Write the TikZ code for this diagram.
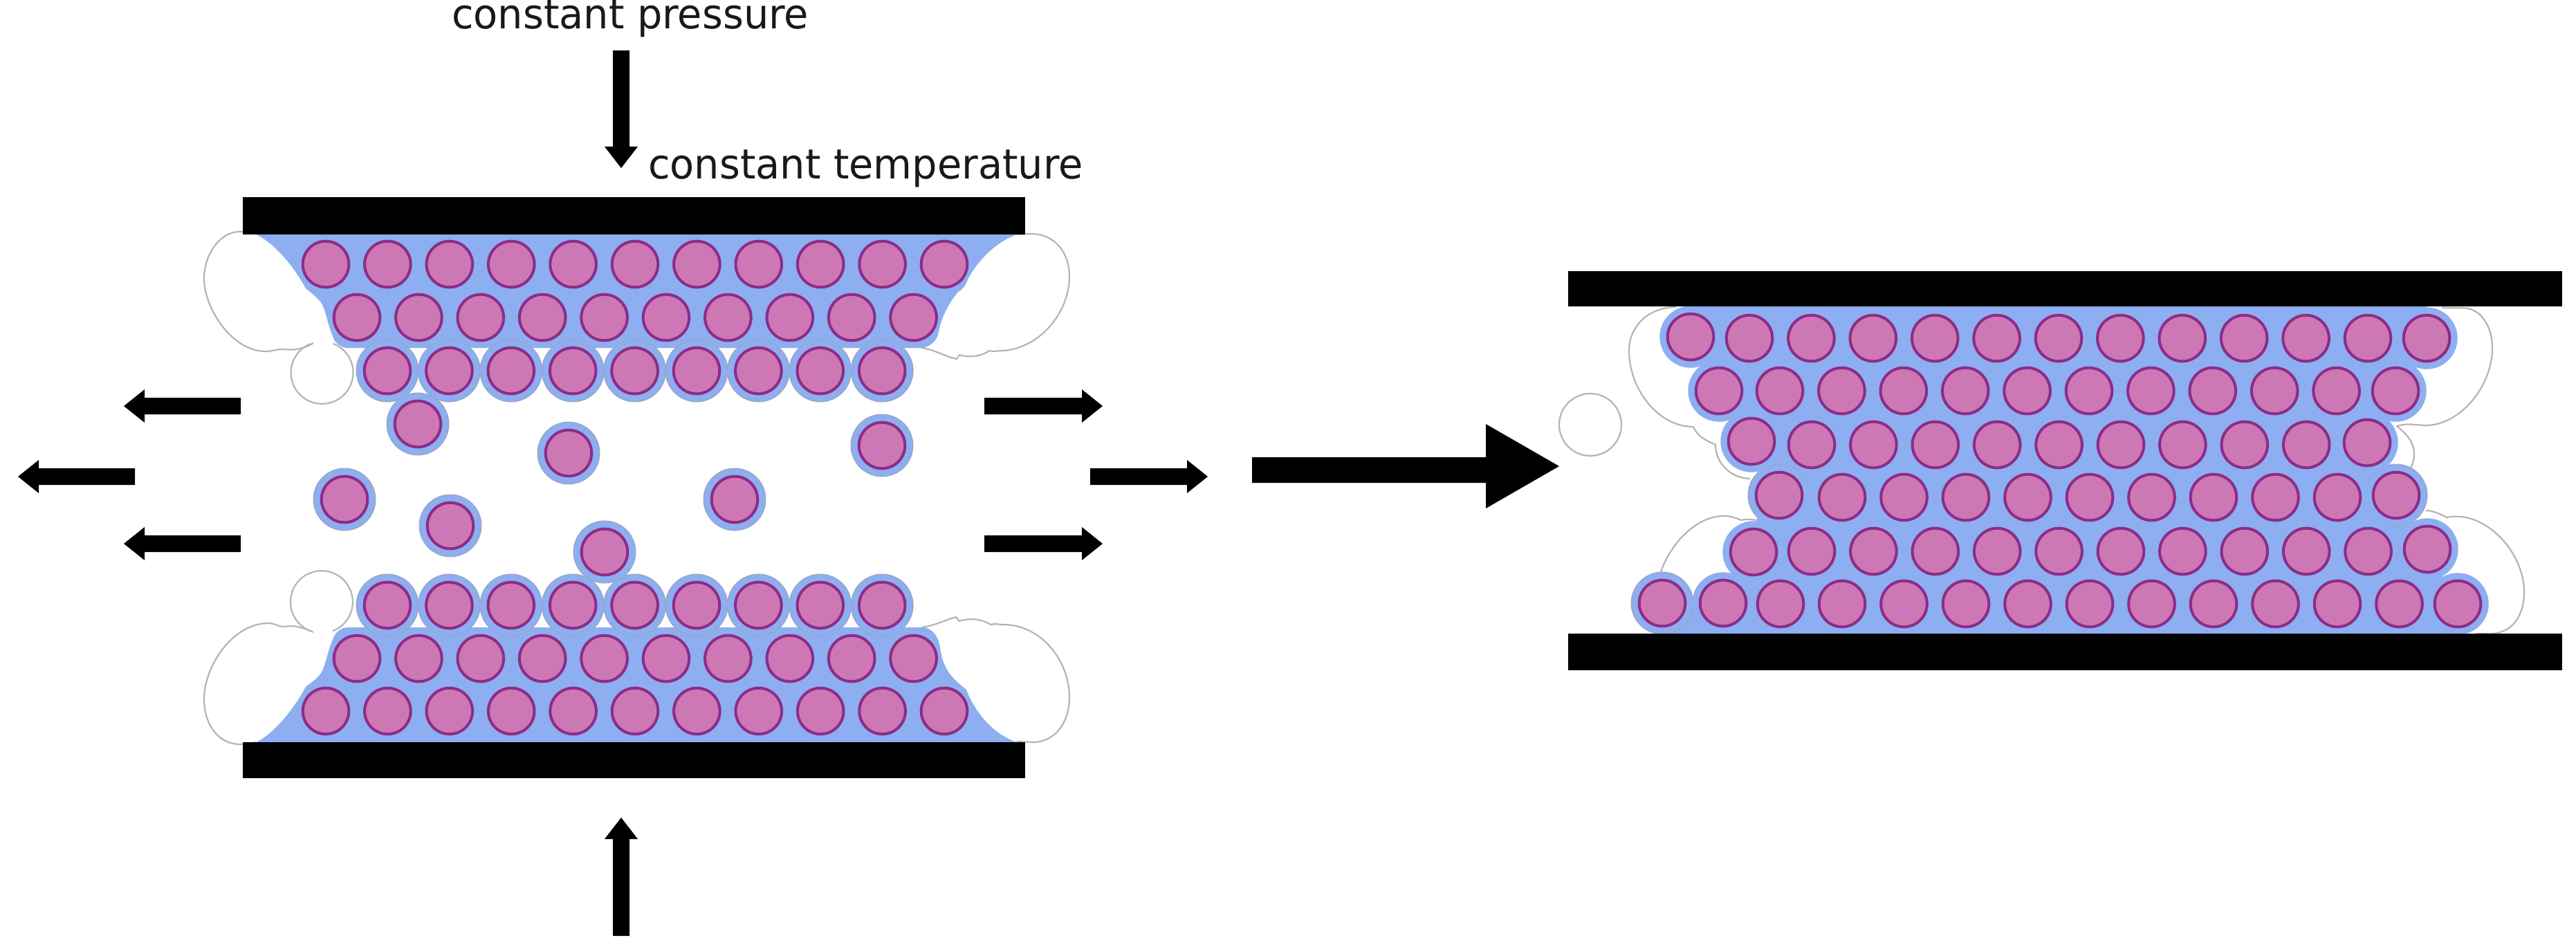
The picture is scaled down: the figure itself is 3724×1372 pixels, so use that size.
\documentclass[tikz,border=0pt]{standalone}
\usepackage{fontspec}
\setmainfont{DejaVu Sans}
\definecolor{pinkf}{HTML}{CD78B4}
\definecolor{pinkd}{HTML}{8C2C88}
\definecolor{bluef}{HTML}{8DAEF0}
\definecolor{edgeg}{HTML}{B4B4B4}
\definecolor{halog}{HTML}{98A8C8}
\tikzset{
  wall/.style={fill=black,draw=none},
  film/.style={draw=edgeg,line width=2.2pt,line join=round},
  blob/.style={fill=bluef,draw=none},
  halo/.style={fill=bluef,draw=none},
  halored/.style={fill=bluef,draw=halog,line width=1.6pt},
  core/.style={fill=pinkf,draw=pinkd,line width=4pt},
  bigarrow/.style={fill=black,draw=none},
  lab/.style={font=\fontsize{59.5}{70}\selectfont,text=black!90,inner sep=0pt,anchor=base west,xscale=.965}
}
\newcommand{\pcore}[2]{\path[core] (#1,#2) circle[radius=33.3];}
\newcommand{\phalo}[2]{\path[halored] (#1,#2) circle[radius=44.7];}
\newcommand{\phalb}[2]{\path[halo] (#1,#2) circle[radius=44.7];}
\newcommand{\arrowR}[3]{\path[bigarrow] (#1,#3-12) -- (#2-30,#3-12) -- (#2-30,#3-24) -- (#2,#3) -- (#2-30,#3+24) -- (#2-30,#3+12) -- (#1,#3+12) -- cycle;}
\newcommand{\arrowL}[3]{\path[bigarrow] (#1,#3-12) -- (#2+30,#3-12) -- (#2+30,#3-24) -- (#2,#3) -- (#2+30,#3+24) -- (#2+30,#3+12) -- (#1,#3+12) -- cycle;}
\begin{document}
\begin{tikzpicture}[x=1pt,y=-1pt]
\useasboundingbox (0,0) rectangle (3724,1372);
\path[fill=white] (0,0) rectangle (3724,1372);

% ---------- left panel: films
\draw[film] (370,338) .. controls (360,335) and (352,335) .. (346,335) .. controls (318,335) and (295,368) .. (295,403) .. controls (295,445) and (335,508) .. (384,508) .. controls (395,508) and (402,504) .. (411,505) .. controls (425,507) and (440,504) .. (453,496);
\draw[film] (449,497) arc[start angle=248.4,end angle=-69,radius=45];
\draw[film] (1332,503) .. controls (1350,505) and (1365,515) .. (1383,519) -- (1387,513) .. controls (1395,516) and (1415,518) .. (1430,507) .. controls (1436,509) and (1442,507) .. (1450,507) .. controls (1505,503) and (1546,450) .. (1546,400) .. controls (1546,365) and (1525,338) .. (1490,338) -- (1470,339);
\draw[film] (370,1073) .. controls (360,1076) and (352,1076) .. (346,1076) .. controls (318,1076) and (295,1050) .. (295,1010) .. controls (295,965) and (335,901) .. (388,901) .. controls (398,901) and (404,907) .. (411,906) .. controls (425,903) and (440,908) .. (453,914);
\draw[film] (451,913) arc[start angle=108,end angle=429,radius=45];
\draw[film] (1332,907) .. controls (1350,905) and (1365,897) .. (1382,892) -- (1387,898) .. controls (1395,895) and (1415,892) .. (1432,903) .. controls (1438,901) and (1444,903) .. (1450,903) .. controls (1505,903) and (1546,955) .. (1546,1008) .. controls (1546,1045) and (1525,1073) .. (1493,1073) -- (1470,1072);

% ---------- left panel: liquid
\path[blob] (370,339) .. controls (395,350) and (425,385) .. (442,417) .. controls (452,425) and (458,430) .. (464,437) .. controls (472,450) and (473,470) .. (484,493) .. controls (490,500) and (495,503) .. (505,503) -- (1335,503) .. controls (1350,498) and (1355,490) .. (1357,480) .. controls (1360,460) and (1372,438) .. (1385,422) .. controls (1392,418) and (1395,415) .. (1400,402) .. controls (1415,375) and (1440,350) .. (1470,339) -- cycle;
\path[blob] (370,1073) .. controls (395,1062) and (425,1025) .. (442,993) .. controls (452,985) and (458,982) .. (464,973) .. controls (472,960) and (473,940) .. (484,918) .. controls (490,910) and (495,907) .. (505,907) -- (1337,907) .. controls (1352,912) and (1356,922) .. (1359,935) .. controls (1362,965) and (1375,980) .. (1397,997) .. controls (1405,1020) and (1430,1060) .. (1470,1073) -- cycle;

% left panel particles
\foreach \i in {0,...,8} {\pgfmathsetmacro\xx{560+89.4*\i}\phalo{\xx}{536}\phalo{\xx}{875}}
\foreach \x/\y in {604/613,822/655,1275/644,498/722,651/760,1062/722,874/798} {\phalo{\x}{\y}}
\foreach \x/\y in {604/613,822/655,1275/644,498/722,651/760,1062/722,874/798} {\pcore{\x}{\y}}
\foreach \i in {0,...,8} {\pgfmathsetmacro\xx{560+89.4*\i}\pcore{\xx}{536}\pcore{\xx}{875}}
\foreach \i in {0,...,9} {\pgfmathsetmacro\xx{516+89.4*\i}\pcore{\xx}{459}\pcore{\xx}{952}}
\foreach \i in {0,...,10} {\pgfmathsetmacro\xx{471+89.4*\i}\pcore{\xx}{382}\pcore{\xx}{1028}}

% left panel walls
\path[wall] (351,285) rectangle (1482,339);
\path[wall] (351,1073) rectangle (1482,1125);

% ---------- right panel: films
\draw[film] (2299,614) circle[radius=45];
\draw[film] (2423,444) .. controls (2385,444) and (2355,470) .. (2355,507) .. controls (2355,560) and (2395,617) .. (2448,617) .. controls (2455,632) and (2465,636) .. (2480,643) .. controls (2480,672) and (2505,692) .. (2530,692);
\draw[film] (2400,830) .. controls (2412,790) and (2450,746) .. (2492,746) .. controls (2505,746) and (2512,750) .. (2517,752) .. controls (2525,750) and (2540,751) .. (2550,755);
\draw[film] (3530,445) -- (3560,445) .. controls (3585,445) and (3603,470) .. (3603,503) .. controls (3603,560) and (3555,615) .. (3507,615) .. controls (3495,615) and (3480,611) .. (3465,616) .. controls (3480,628) and (3490,640) .. (3490,657) .. controls (3490,665) and (3488,670) .. (3485,677);
\draw[film] (3507,738) .. controls (3520,739) and (3527,743) .. (3537,748) .. controls (3545,746) and (3550,747) .. (3557,747) .. controls (3600,750) and (3649,800) .. (3649,857) .. controls (3649,885) and (3635,916) .. (3600,916) -- (3580,916);

% right panel: liquid
\path[blob] (2444,443) -- (3508,443) -- (3508,489) -- (3463,565) -- (3422,640) -- (3464,716) -- (3509,794) -- (3553,873) -- (3553,916) -- (2403,916) -- (2403,873) -- (2491,873) -- (2535,798) -- (2572,716) -- (2532,638) -- (2485,565) -- (2444,487) -- cycle;
\foreach \x/\y in {2572/716,3464/716,2403/872} {\phalo{\x}{\y}}
\foreach \x/\y in {2444/487,2485/565,2532/638,3508/489,3463/565,3422/640,2491/872,2535/798,3509/794,3553/873} {\phalb{\x}{\y}}
\path[blob] (2540,700) rectangle (3450,800);

\foreach \x/\y in {2444/487,3508/489,2485/565,3463/565,2532/638,3422/640,2572/716,3464/716,2535/798,3509/794,2403/872,2491/872,2574/873,3553/873} {\pcore{\x}{\y}}
\foreach \i in {0,...,10} {\pgfmathsetmacro\xx{2529+89.4*\i}\pcore{\xx}{489}}
\foreach \i in {0,...,9} {\pgfmathsetmacro\xx{2573+89.4*\i}\pcore{\xx}{565}}
\foreach \i in {0,...,8} {\pgfmathsetmacro\xx{2619+89.4*\i}\pcore{\xx}{643}}
\foreach \i in {0,...,8} {\pgfmathsetmacro\xx{2663+89.5*\i}\pcore{\xx}{719}}
\foreach \i in {0,...,9} {\pgfmathsetmacro\xx{2619+89.4*\i}\pcore{\xx}{797}}
\foreach \i in {0,...,9} {\pgfmathsetmacro\xx{2663+89.5*\i}\pcore{\xx}{873}}

\path[wall] (2267,392) rectangle (3704,443);
\path[wall] (2267,916) rectangle (3704,969);

% ---------- arrows
\path[bigarrow] (886,73) -- (910,73) -- (910,212) -- (922,212) -- (898,243) -- (874,212) -- (886,212) -- cycle;
\path[bigarrow] (886,1353) -- (910,1353) -- (910,1213) -- (922,1213) -- (898,1182) -- (874,1213) -- (886,1213) -- cycle;
\arrowL{348}{179}{587}
\arrowL{195}{26}{689}
\arrowL{348}{179}{786}
\arrowR{1423}{1594}{587}
\arrowR{1576}{1746}{689}
\arrowR{1423}{1594}{786}
\path[bigarrow] (1810,661) -- (2148,661) -- (2148,613) -- (2254,674) -- (2148,735) -- (2148,698) -- (1810,698) -- cycle;

% ---------- labels
\node[lab] (lblP) at (653,42) {constant pressure};
\node[lab] (lblT) at (937,259) {constant temperature};
\end{tikzpicture}
\end{document}
